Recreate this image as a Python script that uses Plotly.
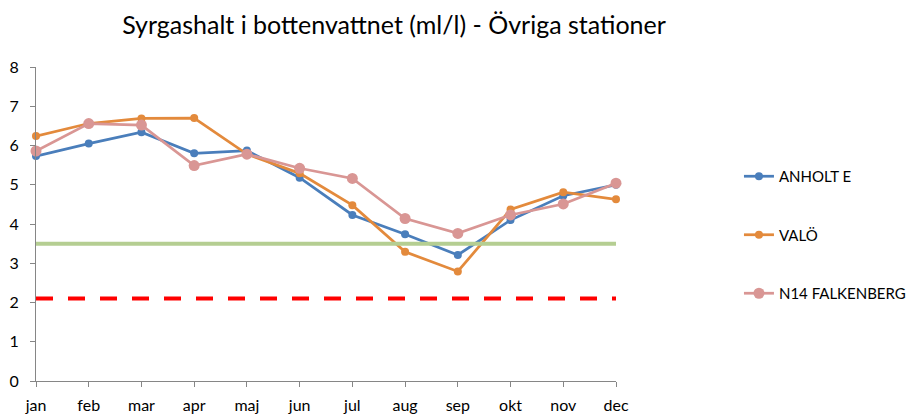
import plotly.graph_objects as go

months = ["jan", "feb", "mar", "apr", "maj", "jun", "jul", "aug", "sep", "okt", "nov", "dec"]
anholt_e = [5.73, 6.05, 6.34, 5.80, 5.87, 5.18, 4.23, 3.74, 3.21, 4.10, 4.72, 5.00]
valo = [6.24, 6.56, 6.69, 6.70, 5.78, 5.29, 4.48, 3.29, 2.79, 4.37, 4.81, 4.63]
n14_falkenberg = [5.86, 6.56, 6.52, 5.49, 5.78, 5.42, 5.16, 4.14, 3.76, 4.23, 4.51, 5.04]
green_level = 3.5
red_level = 2.1
y_ticks = [0, 1, 2, 3, 4, 5, 6, 7, 8]

FONT = "Lato"
fig = go.Figure()

series = [
    ("ANHOLT E", anholt_e, "#4A7EBB", 8),
    ("VALÖ", valo, "#E38A3C", 8),
    ("N14 FALKENBERG", n14_falkenberg, "#D99694", 11),
]
for name, vals, col, ms in series:
    fig.add_trace(go.Scatter(
        x=months, y=vals, name=name, mode="lines+markers",
        line=dict(color=col, width=2.75),
        marker=dict(color=col, size=ms),
        legendgroup=name, cliponaxis=False,
    ))

fig.add_trace(go.Scatter(
    x=months, y=[green_level] * len(months), mode="lines",
    line=dict(color="#B5CE92", width=4), showlegend=False, hoverinfo="skip",
))
fig.add_trace(go.Scatter(
    x=months, y=[red_level] * len(months), mode="lines",
    line=dict(color="#FF0000", width=4, dash="17px,15px"), showlegend=False, hoverinfo="skip",
))

# page body has an 8px margin, so the figure is sized/positioned to compensate
fig.update_layout(
    width=910, height=409,
    margin=dict(l=28, r=302, t=59, b=36, autoexpand=False),
    paper_bgcolor="white", plot_bgcolor="white",
    font=dict(family=FONT, size=16, color="#000000"),
    title=dict(text="Syrgashalt i bottenvattnet (ml/l) - Övriga stationer",
               x=0.4242, xanchor="center", xref="container", y=0.957, yanchor="middle", yref="container",
               font=dict(family=FONT, size=25, color="#000000"), automargin=False),
    legend=dict(x=1.212, y=0.465, xanchor="left", yanchor="middle",
                font=dict(family=FONT, size=15, color="#000000"),
                tracegroupgap=36, bgcolor="rgba(0,0,0,0)"),
    showlegend=True,
)
fig.update_xaxes(
    type="category", range=[0, 11], showline=True, linecolor="#868686", linewidth=1,
    ticks="outside", ticklen=5, tickcolor="#868686", showgrid=False, zeroline=False,
    ticklabelstandoff=5, automargin=False,
)
fig.update_yaxes(
    range=[0, 8], tickvals=y_ticks, showline=True, linecolor="#868686", linewidth=1,
    ticks="outside", ticklen=5, tickcolor="#868686", showgrid=False, zeroline=False,
    ticklabelstandoff=8, automargin=False,
)
fig.write_html("out.html")
